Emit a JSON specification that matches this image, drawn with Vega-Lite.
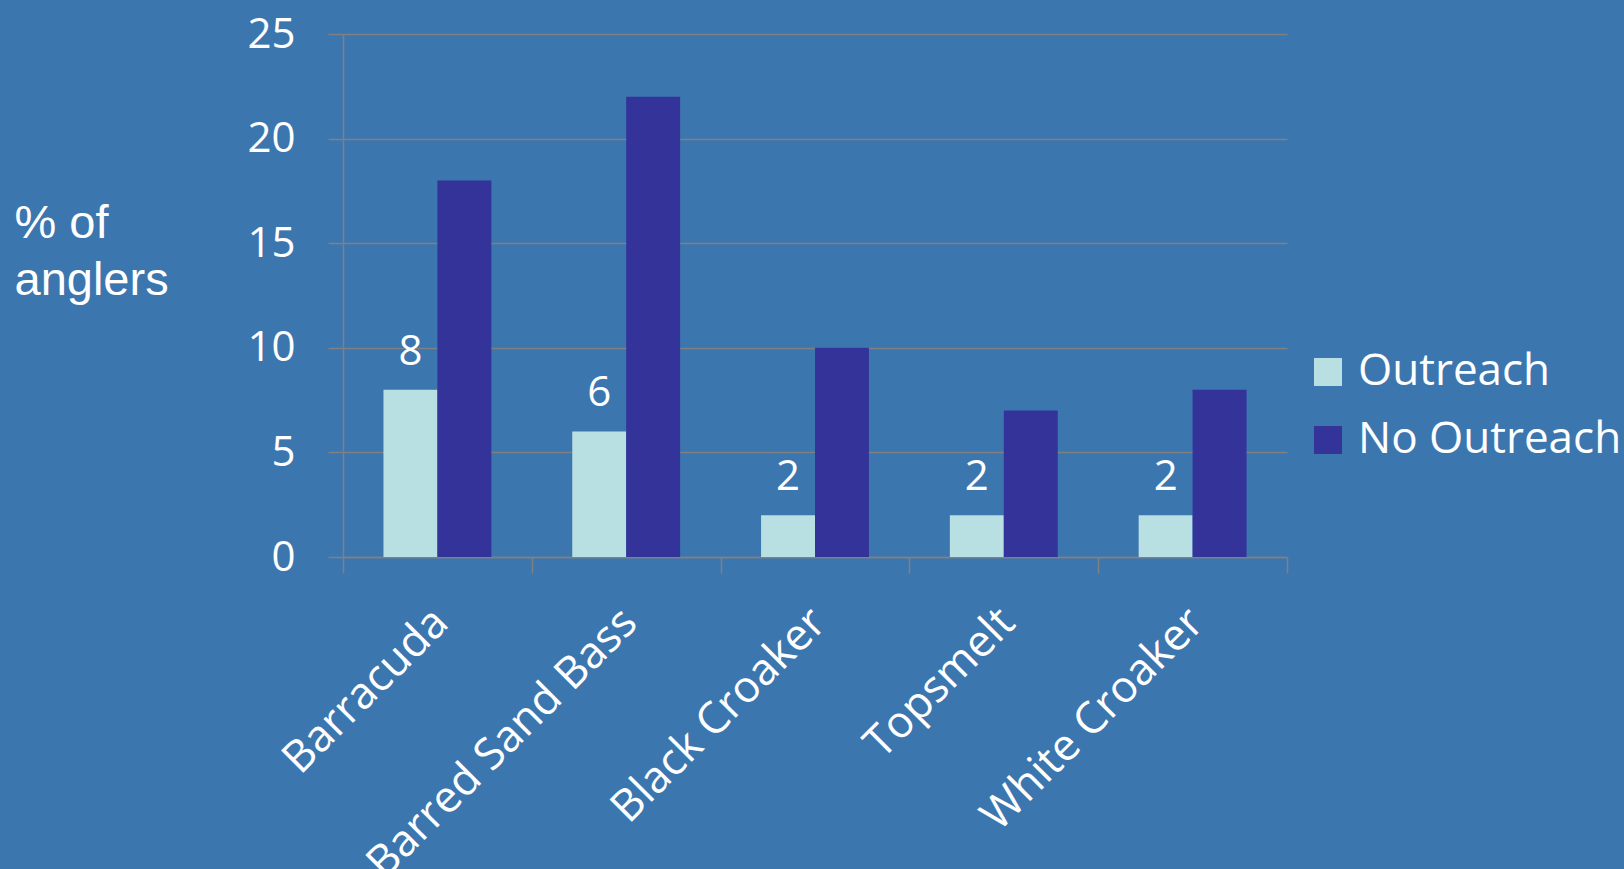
{
  "$schema": "https://vega.github.io/schema/vega-lite/v6.json",
  "autosize": {"type": "none"},
  "width": 944,
  "height": 523,
  "padding": {"left": 343, "top": 34, "right": 337, "bottom": 312},
  "background": "#3C76AF",
  "config": {
    "view": {"stroke": null},
    "font": "Open Sans",
    "axis": {
      "domainColor": "#808080",
      "domainWidth": 1.5,
      "tickColor": "#808080",
      "tickWidth": 1.5,
      "gridColor": "#808080",
      "gridWidth": 1.5,
      "labelColor": "white",
      "labelFont": "Open Sans",
      "labelFontSize": 42,
      "titleColor": "white"
    }
  },
  "data": {
    "values": [
      {"species": "Barracuda", "group": "Outreach", "pct": 8},
      {"species": "Barracuda", "group": "No Outreach", "pct": 18},
      {"species": "Barred Sand Bass", "group": "Outreach", "pct": 6},
      {"species": "Barred Sand Bass", "group": "No Outreach", "pct": 22},
      {"species": "Black Croaker", "group": "Outreach", "pct": 2},
      {"species": "Black Croaker", "group": "No Outreach", "pct": 10},
      {"species": "Topsmelt", "group": "Outreach", "pct": 2},
      {"species": "Topsmelt", "group": "No Outreach", "pct": 7},
      {"species": "White Croaker", "group": "Outreach", "pct": 2},
      {"species": "White Croaker", "group": "No Outreach", "pct": 8}
    ]
  },
  "encoding": {
    "x": {
      "field": "species",
      "type": "nominal",
      "sort": null,
      "scale": {"paddingInner": 0, "paddingOuter": 0},
      "axis": {
        "title": null,
        "labelAngle": -45,
        "labelFontSize": 44,
        "tickBand": "extent",
        "tickSize": 16,
        "labelPadding": 27,
        "labelOffset": -12,
        "labelLimit": 1000,
        "grid": false
      }
    },
    "xOffset": {
      "field": "group",
      "type": "nominal",
      "sort": ["Outreach", "No Outreach"],
      "scale": {"domain": ["Outreach", "No Outreach"], "paddingInner": 0, "paddingOuter": 0.75}
    },
    "y": {
      "field": "pct",
      "type": "quantitative",
      "scale": {"domain": [0, 25], "nice": false},
      "axis": {
        "values": [0, 5, 10, 15, 20, 25],
        "tickSize": 15,
        "labelPadding": 33,
        "grid": true,
        "title": ["% of", "anglers"],
        "titleFont": "Liberation Sans",
        "titleFontSize": 47,
        "titleFontWeight": "normal",
        "titleAngle": 0,
        "titleAlign": "left",
        "titleBaseline": "alphabetic",
        "titleLineHeight": 57,
        "titleX": -329,
        "titleY": 203
      }
    }
  },
  "layer": [
    {
      "mark": {"type": "bar"},
      "encoding": {
        "color": {
          "field": "group",
          "type": "nominal",
          "scale": {"domain": ["Outreach", "No Outreach"], "range": ["#B8DFE2", "#333399"]},
          "legend": {
            "title": null,
            "orient": "none",
            "legendX": 963,
            "legendY": 316,
            "padding": 0,
            "symbolType": "square",
            "symbolSize": 784,
            "symbolStrokeWidth": 0,
            "labelFont": "Open Sans",
            "labelFontSize": 44,
            "labelColor": "white",
            "labelOffset": 8,
            "labelLimit": 400,
            "rowPadding": 24
          }
        }
      }
    },
    {
      "transform": [{"filter": "datum.group === 'Outreach'"}],
      "mark": {"type": "text", "color": "white", "fontSize": 42, "font": "Open Sans", "baseline": "alphabetic", "dy": -25},
      "encoding": {
        "text": {"field": "pct", "type": "quantitative"}
      }
    }
  ]
}
